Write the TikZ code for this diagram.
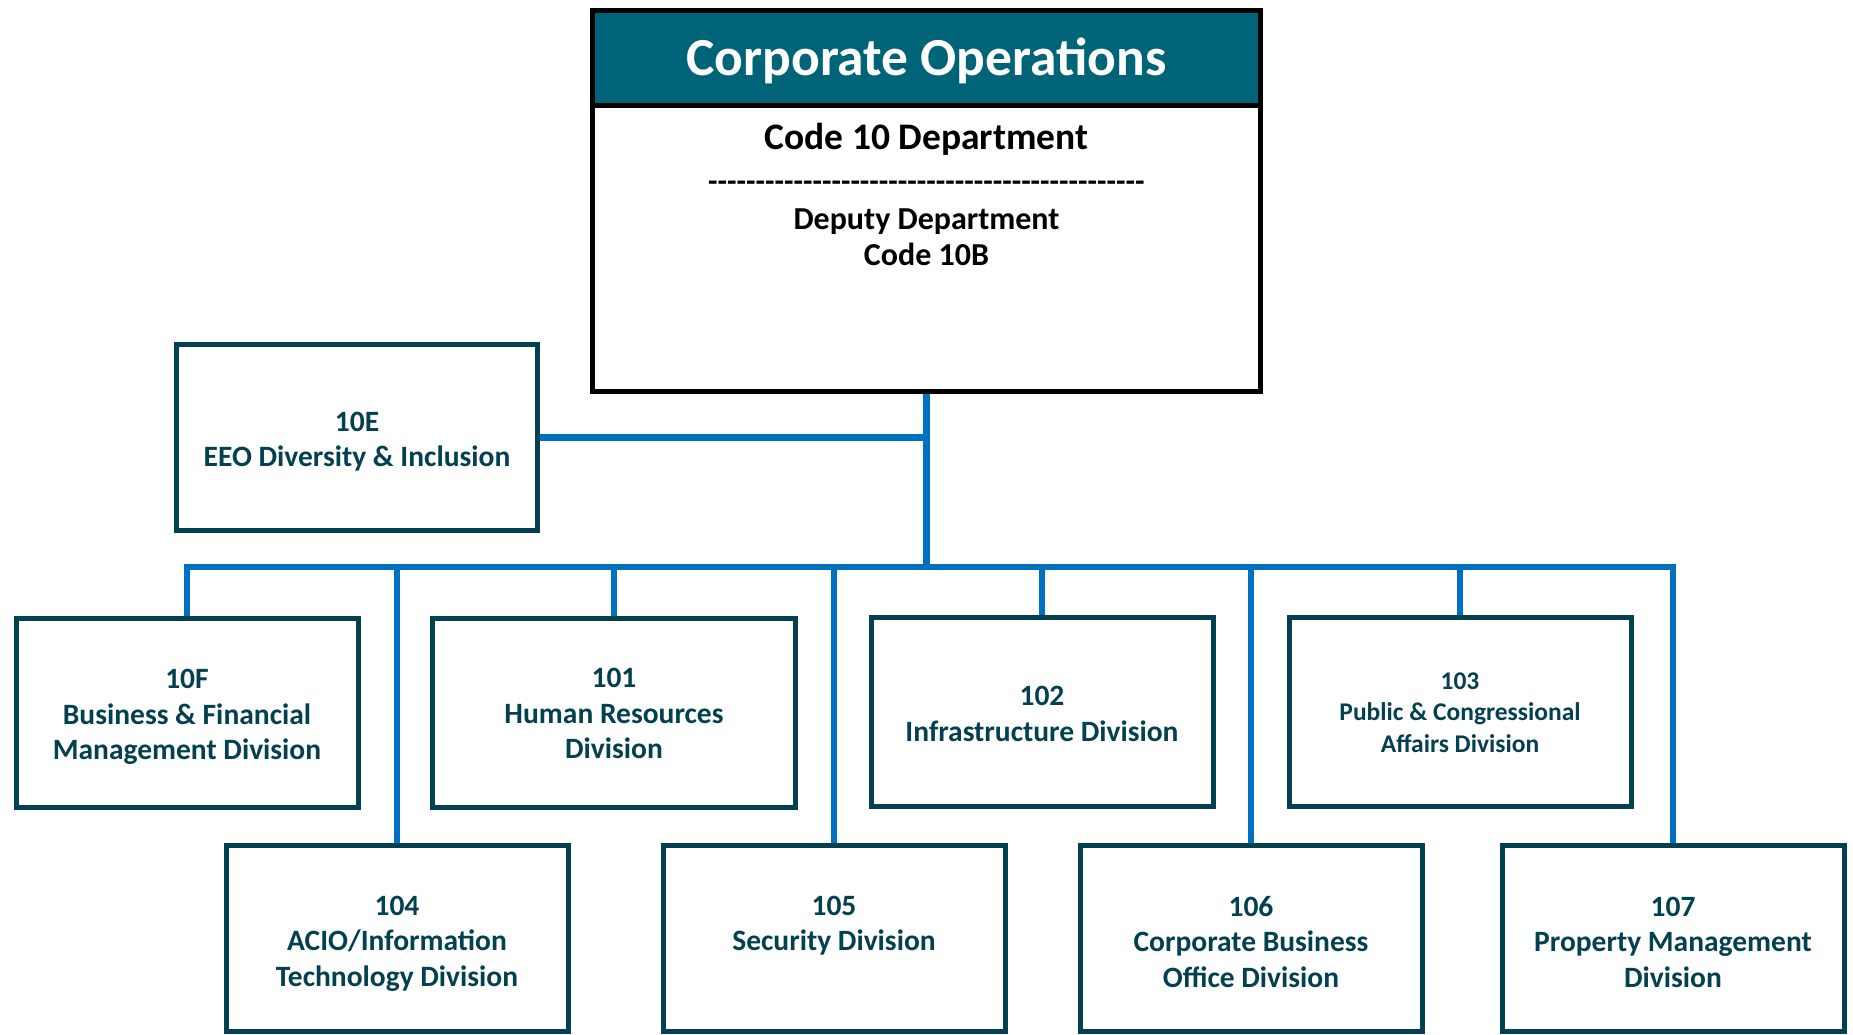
\documentclass[tikz,border=0pt]{standalone}
\usepackage{fontspec}
\setmainfont{Carlito}
\definecolor{hdrc}{RGB}{0,100,121}
\definecolor{boxc}{RGB}{3,64,80}
\definecolor{connc}{RGB}{0,112,192}
\pgfdeclarelayer{background}
\pgfsetlayers{background,main}
\newcommand\hyone{-\kern0pt}
\newcommand\hyten{\hyone\hyone\hyone\hyone\hyone\hyone\hyone\hyone\hyone\hyone}
\tikzset{
  divbox/.style={draw=boxc, line width=5, fill=white, inner sep=0,
    minimum width=342, minimum height=189},
  lowbox/.style={divbox, minimum height=186},
  divtext/.style={inner sep=0, align=center, text=boxc,
    font=\bfseries\fontsize{29.5}{35.5}\selectfont},
  conn/.style={draw=connc, line width=6.5},
  toptext/.style={inner sep=0, align=center, text=black}
}
\begin{document}
\begin{tikzpicture}[x=1pt,y=-1pt]
\useasboundingbox (0,0) rectangle (1853,1034);
% top box
\node[draw=black, line width=5, fill=white, minimum width=668, minimum height=381, inner sep=0] (top) at (926.5,201) {};
\node[draw=black, line width=5, fill=hdrc, minimum width=668, minimum height=94.5, inner sep=0] (hdr) at (926.5,57.75) {};
\node[inner sep=0, text=white, font=\bfseries\fontsize{53.5}{60}\selectfont] (hdrtext) at (926.5,60.5) {Corporate Operations};
\node[toptext, font=\bfseries\fontsize{37.5}{42}\selectfont] (code) at (926.5,139.5) {Code 10 Department};
\node[toptext, font=\bfseries\fontsize{31}{36}\selectfont] (dash) at (926.5,186) {\hyten\hyten\hyten\hyten\hyone\hyone\hyone\hyone\hyone\hyone};
\node[toptext, font=\bfseries\fontsize{32}{36.5}\selectfont] (deputy) at (926.5,237) {Deputy Department\\Code 10B};
% side box
\node[divbox, minimum width=361, minimum height=186] (b10E) at (357,437.5) {};
\node[divtext] (t10E) at ([yshift=-4]b10E.center) {10E\\EEO Diversity \& Inclusion};
% row 1
\node[divbox] (b10F) at (187,713) {};
\node[divbox, minimum width=363] (b101) at (614,713) {};
\node[divbox] (b102) at (1042,712) {};
\node[divbox] (b103) at (1460,712) {};
\node[divtext] (t10F) at ([yshift=-4]b10F.center) {10F\\Business \& Financial\\Management Division};
\node[divtext] (t101) at ([yshift=-0.5]b101.center) {101\\Human Resources\\Division};
\node[divtext] (t102) at ([yshift=-2]b102.center) {102\\Infrastructure Division};
\node[divtext, font=\bfseries\fontsize{25.5}{31.5}\selectfont] (t103) at ([yshift=-0.5]b103.center) {103\\Public \& Congressional\\Affairs Division};
% row 2
\node[lowbox] (b104) at (397,938) {};
\node[lowbox] (b105) at (834,938) {};
\node[lowbox] (b106) at (1251,938) {};
\node[lowbox] (b107) at (1673,938) {};
\node[divtext] (t104) at ([yshift=-5.5]b104.center) {104\\ACIO/Information\\Technology Division};
\node[divtext, anchor=north] (t105) at (t104.north -| b105.center) {105\\Security Division};
\node[divtext] (t106) at ([yshift=-4]b106.center) {106\\Corporate Business\\Office Division};
\node[divtext] (t107) at ([yshift=-4]b107.center) {107\\Property Management\\Division};
% connectors
\coordinate (bus) at (926.5,567);
\begin{pgfonlayer}{background}
\draw[conn] (top.south) -- (bus);
\draw[conn] (b10E.east) -- (b10E.east -| top.south);
\draw[conn, line join=miter] (b10F.north) |- (bus) -| (b107.north);
\draw[conn] (b101.north) -- (b101.north |- bus);
\draw[conn] (b102.north) -- (b102.north |- bus);
\draw[conn] (b103.north) -- (b103.north |- bus);
\draw[conn] (b104.north) -- (b104.north |- bus);
\draw[conn] (b105.north) -- (b105.north |- bus);
\draw[conn] (b106.north) -- (b106.north |- bus);
\end{pgfonlayer}
\end{tikzpicture}
\end{document}
